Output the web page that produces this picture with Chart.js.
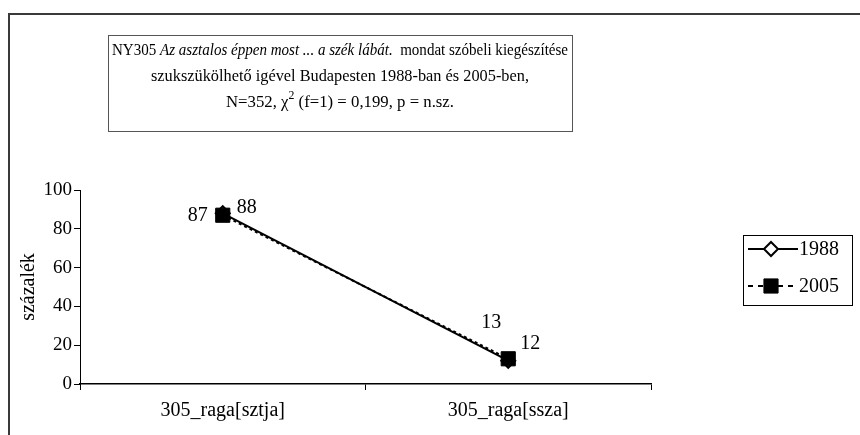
<html>
    <head>
        <script src="https://cdn.jsdelivr.net/npm/chart.js@4.4.0/dist/chart.umd.min.js"></script>
        <style>
            body { margin: 0; background: #fff; }
            #wrap { width: 860px; height: 435px; }
        </style>
    </head>
    <body>
        <div id="wrap">
            <canvas id="chart" width="860" height="435"></canvas>
        </div>
        <script>
            const CATEGORIES = ["305_raga[sztja]", "305_raga[ssza]"];
            const SERIES_NAMES = ["1988", "2005"];
            const VALUES_1988 = [88, 12];
            const VALUES_2005 = [87, 13];
            const Y_TICKS = [0, 20, 40, 60, 80, 100];

            const FONT = "'Liberation Serif', 'Times New Roman', serif";

            // where each value label sits relative to its point (per dataset, per point)
            const LABEL_OFFSETS = [
                [[24, -6], [22, -17]],
                [[-25, 1], [-17, -36]]
            ];

            // draws a row of [text, font] runs centred at cx, squeezed to maxW if wider
            function drawRuns(ctx, runs, cx, y, maxW) {
                let total = 0;
                runs.forEach(r => { ctx.font = r[1]; total += ctx.measureText(r[0]).width; });
                const sx = total > maxW ? maxW / total : 1;
                ctx.save();
                ctx.translate(cx - total * sx / 2, 0);
                ctx.scale(sx, 1);
                ctx.textAlign = "left";
                let x = 0;
                runs.forEach(r => {
                    ctx.font = r[1];
                    ctx.fillText(r[0], x, y + (r[2] || 0));
                    x += ctx.measureText(r[0]).width;
                });
                ctx.restore();
            }

            // frame, title box, value labels and legend
            const decorations = {
                id: "decorations",
                beforeDraw(chart) {
                    const ctx = chart.ctx;
                    ctx.save();
                    ctx.fillStyle = "#fff";
                    ctx.fillRect(0, 0, chart.width, chart.height);
                    ctx.strokeStyle = "#3a3a3a";
                    ctx.lineWidth = 2;
                    ctx.strokeRect(9, 14, 900, 500);

                    // title box
                    ctx.strokeStyle = "#555";
                    ctx.lineWidth = 1;
                    ctx.strokeRect(108.5, 35.5, 464, 96);
                    ctx.fillStyle = "#000";
                    ctx.textBaseline = "middle";
                    const cx = 340;
                    const f = "17px " + FONT;
                    drawRuns(ctx, [
                        ["NY305 ", f],
                        ["Az asztalos éppen most ... a szék lábát.", "italic " + f],
                        ["  mondat szóbeli kiegészítése", f]
                    ], cx, 51, 456);
                    drawRuns(ctx, [["szukszükölhető igével Budapesten 1988-ban és 2005-ben,", f]], cx, 77, 378);
                    drawRuns(ctx, [
                        ["N=352, χ", f],
                        ["2", "12px " + FONT, -7],
                        [" (f=1) = 0,199, p = n.sz.", f]
                    ], cx, 103, 228);
                    ctx.restore();
                },
                afterDatasetsDraw(chart) {
                    const ctx = chart.ctx;
                    ctx.save();
                    ctx.fillStyle = "#000";
                    ctx.font = "20px " + FONT;
                    ctx.textAlign = "center";
                    ctx.textBaseline = "middle";
                    chart.data.datasets.forEach((ds, i) => {
                        const meta = chart.getDatasetMeta(i);
                        meta.data.forEach((pt, j) => {
                            const off = LABEL_OFFSETS[i][j];
                            ctx.fillText(String(ds.data[j]), pt.x + off[0], pt.y + off[1]);
                        });
                    });

                    // legend
                    ctx.strokeStyle = "#000";
                    ctx.lineWidth = 1;
                    ctx.strokeRect(743.5, 235.5, 109, 70);
                    ctx.textAlign = "left";
                    ctx.font = "20px " + FONT;
                    const rows = [249, 286];
                    const dashes = [[], [5, 5]];
                    chart.data.datasets.forEach((ds, i) => {
                        const y = rows[i];
                        ctx.beginPath();
                        ctx.setLineDash(dashes[i]);
                        ctx.lineWidth = 2;
                        ctx.strokeStyle = ds.borderColor;
                        ctx.moveTo(748, y);
                        ctx.lineTo(798, y);
                        ctx.stroke();
                        ctx.setLineDash([]);
                        ctx.fillStyle = ds.pointBackgroundColor;
                        ctx.strokeStyle = ds.pointBorderColor;
                        ctx.lineWidth = ds.pointBorderWidth;
                        Chart.helpers.drawPoint(ctx, {
                            pointStyle: ds.pointStyle,
                            radius: ds.pointRadius,
                            borderWidth: ds.pointBorderWidth
                        }, 771, y);
                        ctx.fillStyle = "#000";
                        ctx.fillText(ds.label, 799, y + 1);
                    });
                    ctx.restore();
                }
            };

            const chart = new Chart(document.getElementById("chart"), {
                type: "line",
                data: {
                    labels: CATEGORIES,
                    datasets: [
                        {
                            label: SERIES_NAMES[0],
                            data: VALUES_1988,
                            borderColor: "#000",
                            borderWidth: 2,
                            pointStyle: "rectRot",
                            pointRadius: 7,
                            pointBackgroundColor: "#fff",
                            pointBorderColor: "#000",
                            pointBorderWidth: 2,
                            order: 1
                        },
                        {
                            label: SERIES_NAMES[1],
                            data: VALUES_2005,
                            borderColor: "#000",
                            borderWidth: 2,
                            borderDash: [3, 3],
                            pointStyle: "rect",
                            pointRadius: 10,
                            pointBackgroundColor: "#000",
                            pointBorderColor: "#000",
                            pointBorderWidth: 1,
                            order: 0
                        }
                    ]
                },
                options: {
                    responsive: false,
                    animation: false,
                    layout: { padding: { left: 0, right: 209, top: 190, bottom: 0 } },
                    plugins: {
                        legend: { display: false },
                        tooltip: { enabled: false },
                        title: { display: false }
                    },
                    scales: {
                        x: {
                            offset: true,
                            grid: { offset: true, drawOnChartArea: false, drawTicks: true, tickLength: 6, color: "#000", lineWidth: 1 },
                            border: { display: true, color: "#000", width: 1.5 },
                            ticks: { color: "#000", padding: 9, font: { family: FONT, size: 20 } },
                            afterFit(scale) { scale.height = 51; }
                        },
                        y: {
                            min: 0,
                            max: 100,
                            afterBuildTicks(scale) { scale.ticks = Y_TICKS.map(v => ({ value: v })); },
                            grid: { drawOnChartArea: false, drawTicks: true, tickLength: 6, color: "#000", lineWidth: 1 },
                            border: { display: true, color: "#000", width: 1 },
                            ticks: { color: "#000", padding: 2, font: { family: FONT, size: 19 } },
                            title: { display: true, text: "százalék", color: "#000", padding: { top: 17, bottom: 0 }, font: { family: FONT, size: 20 } },
                            afterFit(scale) { scale.width = 80; }
                        }
                    }
                },
                plugins: [decorations]
            });
        </script>
    </body>
</html>
